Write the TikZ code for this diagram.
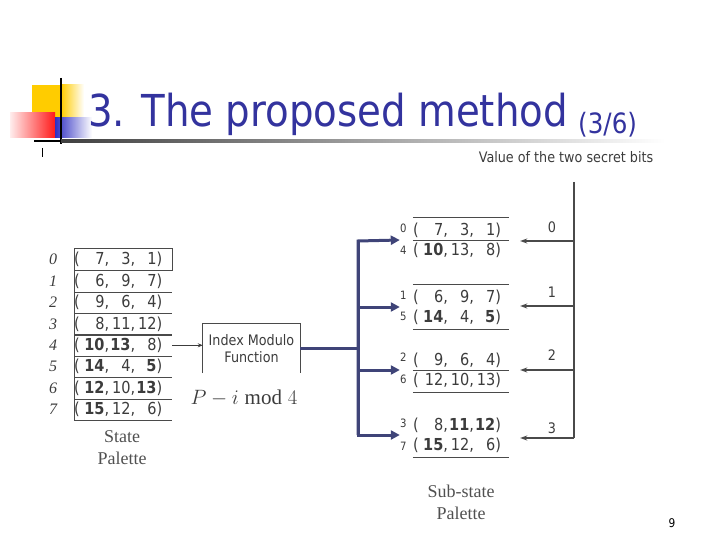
\documentclass[tikz,border=0pt]{standalone}
\usepackage{fontspec}
\usepackage{amsmath}
\setmainfont{Liberation Serif}
\newfontfamily\tahoma{DejaVu Sans}[FakeStretch=0.88]
\usetikzlibrary{arrows.meta,positioning,calc}
\definecolor{titleblue}{HTML}{33339E}
\definecolor{busnavy}{HTML}{3F4478}
\definecolor{inkgray}{HTML}{3C3C3C}
\definecolor{rulegray}{HTML}{4A4A4A}
\definecolor{decoyellow}{HTML}{FFCC00}
\definecolor{decored}{HTML}{FF1A1A}
\definecolor{decoblue}{HTML}{2E2EC2}
\newcommand{\trip}[3]{\makebox[6pt][l]{(}\makebox[29pt][r]{#1,}\makebox[26pt][r]{#2,}\makebox[27pt][r]{#3)}}
\newcommand{\subidx}[2]{\makebox[13pt][l]{\raisebox{#1}{\fontsize{11.5}{11.5}\selectfont #2}}}

\begin{document}
\begin{tikzpicture}[x=1pt,y=-1pt,
    rowtext/.style={font=\tahoma\fontsize{16.5}{16.5}\selectfont,text=inkgray,inner sep=0pt},
    leftrow/.style={rowtext,text width=98pt,align=left,minimum height=21.4pt,anchor=west},
    leftidx/.style={font=\itshape\fontsize{16}{16}\selectfont,text=inkgray},
    subgroup/.style={minimum width=109pt,minimum height=44pt,inner sep=0pt},
    subrow/.style={rowtext,anchor=west},
    palrule/.style={draw=rulegray,line width=0.9pt},
    bus/.style={draw=busnavy,line width=3pt},
    busarrow/.style={bus,-{Triangle[length=9pt,width=9pt]}},
    bitarrow/.style={draw=rulegray,line width=1.1pt,-{Stealth[length=7pt,width=5pt]},shorten >=11pt},
    serifcap/.style={font=\fontsize{18}{22}\selectfont,text=inkgray!90,align=center},
    smallsans/.style={font=\tahoma\fontsize{14.5}{17.5}\selectfont,text=inkgray}]
  \useasboundingbox (0,0) rectangle (720,540);

  % slide header
  \fill[decoyellow] (32,85) rectangle (61,118);
  \shade[left color=decoyellow,right color=white] (61,85) rectangle (84,118);
  \shade[left color=decored!8,right color=decored] (10,113) rectangle (55,138);
  \shade[left color=decoblue,right color=white] (55,118) rectangle (92,138);
  \draw[line width=2pt] (61,78) -- (61,144);
  \draw[line width=2pt] (34,141) -- (61,141);
  \shade[left color=black!75,right color=white] (61,139.5) rectangle (665,142.5);
  \draw[line width=0.8pt] (42,148) -- (42,157);
  \node[font=\tahoma\fontsize{44}{44}\selectfont,text=titleblue,inner sep=0pt,anchor=base west] (ttl) at (88,127) {3. The proposed method};
  \node[font=\tahoma\fontsize{28}{28}\selectfont,text=titleblue,inner sep=0pt,anchor=base west] (part) at (578,134) {(3/6)};

  % state palette
  \node[leftrow] (s0) at (74,259.7) {\trip{7}{3}{1}};
  \node[leftrow] (s1) at (74,281.1) {\trip{6}{9}{7}};
  \node[leftrow] (s2) at (74,302.5) {\trip{9}{6}{4}};
  \node[leftrow] (s3) at (74,323.9) {\trip{8}{11}{12}};
  \node[leftrow] (s4) at (74,345.3) {\trip{\textbf{10}}{\textbf{13}}{8}};
  \node[leftrow] (s5) at (74,366.7) {\trip{\textbf{14}}{4}{\textbf{5}}};
  \node[leftrow] (s6) at (74,388.1) {\trip{\textbf{12}}{10}{\textbf{13}}};
  \node[leftrow] (s7) at (74,409.5) {\trip{\textbf{15}}{12}{6}};
  \foreach \i in {0,...,7} {
    \node[leftidx] (i\i) at (53,259.7+21.4*\i) {\i};
    \draw[palrule] (s\i.south west) -- (s\i.south east);
  }
  \draw[palrule] (s0.south east) -- (s0.north east) -- (s0.north west) -- (s7.south west);
  \draw[palrule,line width=1.6pt] (s3.south west) -- (s3.south east);
  \node[serifcap] (spal) at (122,448) {State\\Palette};

  % index modulo function
  \node[smallsans,minimum width=97pt,minimum height=49pt,inner sep=0pt,align=center] (imf) at (251.5,348.5) {Index Modulo\\Function};
  \draw[draw=rulegray,line width=0.9pt] (imf.south west) -- (imf.north west) -- (imf.north east) -- (imf.south east);
  \draw[draw=inkgray,line width=1pt,-{Stealth[length=5pt,width=4pt]}] (s4.east) -- (s4.east -| imf.west);
  \node[font=\fontsize{21}{21}\selectfont,text=inkgray] (pmod) at (244,398) {$P - i \bmod 4$};

  % sub-state palette
  \node[subgroup] (g0) at (454.5,240) {};
  \node[subgroup] (g1) at (454.5,307) {};
  \node[subgroup] (g2) at (454.5,370) {};
  \node[subgroup] (g3) at (454.5,435) {};
  \node[subrow] (u0) at ([yshift=10pt]g0.west) {\subidx{3pt}{0}\trip{7}{3}{1}};
  \node[subrow] (u4) at ([yshift=-10pt]g0.west) {\subidx{1pt}{4}\trip{\textbf{10}}{13}{8}};
  \node[subrow] (u1) at ([yshift=10pt]g1.west) {\subidx{3pt}{1}\trip{6}{9}{7}};
  \node[subrow] (u5) at ([yshift=-10pt]g1.west) {\subidx{2pt}{5}\trip{\textbf{14}}{4}{\textbf{5}}};
  \node[subrow] (u2) at ([yshift=10pt]g2.west) {\subidx{4pt}{2}\trip{9}{6}{4}};
  \node[subrow] (u6) at ([yshift=-10pt]g2.west) {\subidx{2pt}{6}\trip{12}{10}{13}};
  \node[subrow] (u3) at ([yshift=10pt]g3.west) {\subidx{3pt}{3}\trip{8}{\textbf{11}}{\textbf{12}}};
  \node[subrow] (u7) at ([yshift=-10pt]g3.west) {\subidx{0pt}{7}\trip{\textbf{15}}{12}{6}};
  \draw[palrule] ([xshift=13pt]g0.north west) -- (g0.north east);
  \draw[palrule] ([xshift=13pt]g0.west) -- (g0.east);
  \draw[palrule] ([xshift=13pt]g1.north west) -- (g1.north east);
  \draw[palrule] ([xshift=13pt]g1.south west) -- (g1.south east);
  \draw[palrule] ([xshift=13pt]g2.west) -- (g2.east);
  \draw[palrule] ([xshift=13pt]g2.south west) -- (g2.south east);
  \draw[palrule] ([xshift=13pt]g3.south west) -- (g3.south east);
  \node[serifcap] (subpal) at (461,502) {Sub-state\\Palette};

  % bus to the sub-palettes
  \coordinate (jm) at (358,348.5);
  \coordinate (j0) at (358,241);
  \coordinate (j3) at (358,435);
  \draw[bus] (imf.east) -- (jm);
  \draw[busarrow] (j3) -- (j0) -- (g0.west);
  \draw[busarrow] (j0) -- (j3) -- (g3.west);
  \draw[busarrow] (g1.west -| j0) -- (g1.west);
  \draw[busarrow] (g2.west -| j0) -- (g2.west);

  % secret bits
  \node[smallsans,font=\tahoma\fontsize{14.5}{14.5}\selectfont] (vbits) at (566,157) {Value of the two secret bits};
  \coordinate (ktop) at (574,182);
  \coordinate (k0) at (574,241);
  \coordinate (k1) at (574,306);
  \coordinate (k2) at (574,370);
  \coordinate (k3) at (574,438);
  \draw[draw=rulegray,line width=1.1pt] (ktop) -- (k3);
  \draw[bitarrow] (k0) -- (k0 -| g0.east);
  \draw[bitarrow] (k1) -- (k1 -| g1.east);
  \draw[bitarrow,line width=2pt] (k2) -- (k2 -| g2.east);
  \draw[bitarrow] (k3) -- (k3 -| g3.east);
  \node[smallsans] (b0) at (552,227) {0};
  \node[smallsans] (b1) at (552,292) {1};
  \node[smallsans] (b2) at (552,355) {2};
  \node[smallsans] (b3) at (552,428) {3};

  \node[font=\tahoma\fontsize{12}{12}\selectfont] (pgno) at (672,523) {9};
\end{tikzpicture}
\end{document}
